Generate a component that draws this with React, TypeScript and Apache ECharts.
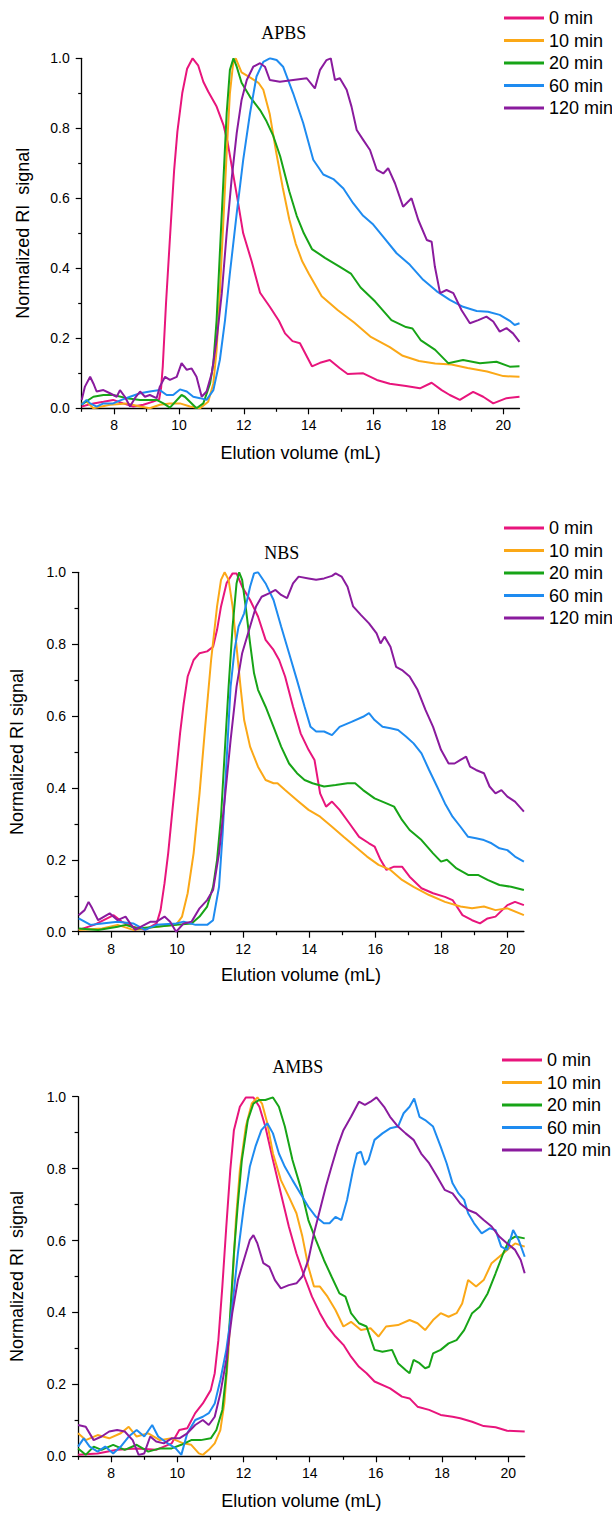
import React, { useEffect, useRef } from "react";
import * as echarts from "echarts";

// ---------- data ----------
const SERIES_NAMES = ["0 min", "10 min", "20 min", "60 min", "120 min"];
const PANEL_TITLES = ["APBS", "NBS", "AMBS"];
const Y_NAMES = ["Normalized RI  signal", "Normalized RI signal", "Normalized RI  signal"];
const X_NAME = "Elution volume (mL)";
const X_MAJOR_TICKS = [8, 10, 12, 14, 16, 18, 20];
const X_MINOR_TICKS = [7, 9, 11, 13, 15, 17, 19];
const X_MIN = 7;
const X_MAX = 20.5;

// APBS
const apbs0 = [[7.0,0.005],[7.36,0.014],[7.67,0.019],[7.97,0.024],[8.28,0.014],[8.59,0.005],[8.9,0.01],[9.2,0.019],[9.39,0.026],[9.45,0.06],[9.5,0.12],[9.6,0.3],[9.73,0.5],[9.85,0.68],[9.95,0.79],[10.1,0.9],[10.25,0.97],[10.42,1.0],[10.59,0.98],[10.75,0.933],[10.9,0.905],[11.16,0.862],[11.37,0.81],[11.5,0.76],[11.65,0.68],[11.8,0.6],[11.98,0.5],[12.24,0.42],[12.5,0.33],[12.8,0.29],[13.08,0.25],[13.27,0.214],[13.5,0.192],[13.73,0.186],[14.1,0.12],[14.35,0.13],[14.65,0.138],[14.95,0.115],[15.2,0.098],[15.68,0.1],[16.1,0.081],[16.5,0.07],[17.0,0.064],[17.43,0.057],[17.79,0.073],[18.1,0.052],[18.35,0.038],[18.66,0.024],[19.07,0.047],[19.38,0.033],[19.69,0.014],[20.1,0.029],[20.5,0.033]];
const apbs10 = [[7.0,0.014],[7.15,0.019],[7.36,0.0],[7.87,0.01],[8.39,0.014],[8.8,0.005],[9.1,0.0],[9.41,0.01],[9.72,0.014],[10.03,0.014],[10.34,0.005],[10.65,0.0],[10.9,0.019],[11.06,0.071],[11.16,0.167],[11.26,0.33],[11.37,0.538],[11.47,0.729],[11.57,0.9],[11.67,0.986],[11.75,1.0],[11.93,0.96],[12.2,0.945],[12.45,0.93],[12.6,0.91],[12.8,0.84],[13.0,0.73],[13.2,0.63],[13.4,0.54],[13.6,0.47],[13.8,0.42],[14.0,0.385],[14.4,0.32],[14.9,0.28],[15.4,0.245],[15.9,0.205],[16.5,0.175],[16.9,0.15],[17.4,0.135],[17.9,0.128],[18.4,0.125],[18.9,0.115],[19.5,0.105],[20.0,0.092],[20.5,0.09]];
const apbs20 = [[7.0,0.01],[7.05,0.014],[7.36,0.033],[7.67,0.038],[7.97,0.038],[8.39,0.029],[8.8,0.024],[9.31,0.024],[9.52,0.014],[9.72,0.002],[10.08,0.038],[10.18,0.033],[10.54,0.0],[10.75,0.014],[10.96,0.071],[11.06,0.129],[11.16,0.252],[11.26,0.443],[11.37,0.652],[11.47,0.843],[11.57,0.967],[11.68,1.0],[11.78,0.976],[11.93,0.93],[12.19,0.89],[12.5,0.852],[12.7,0.82],[12.9,0.78],[13.12,0.72],[13.4,0.62],[13.63,0.55],[13.85,0.5],[14.1,0.455],[14.5,0.43],[14.95,0.405],[15.3,0.385],[15.6,0.345],[16.05,0.305],[16.55,0.252],[17.0,0.232],[17.2,0.228],[17.45,0.195],[17.9,0.167],[18.3,0.129],[18.76,0.138],[19.28,0.129],[19.79,0.133],[20.2,0.119],[20.5,0.12]];
const apbs60 = [[7.0,0.01],[7.15,0.024],[7.26,0.014],[7.46,0.005],[7.67,0.014],[7.97,0.014],[8.23,0.024],[8.49,0.033],[8.8,0.043],[9.1,0.048],[9.41,0.052],[9.62,0.038],[9.82,0.038],[10.03,0.054],[10.24,0.048],[10.44,0.033],[10.65,0.029],[10.85,0.024],[11.06,0.052],[11.26,0.138],[11.42,0.252],[11.57,0.386],[11.78,0.557],[11.98,0.71],[12.19,0.843],[12.39,0.948],[12.6,0.99],[12.8,1.0],[13.01,0.995],[13.21,0.976],[13.52,0.9],[13.83,0.815],[14.14,0.71],[14.45,0.668],[14.76,0.655],[15.07,0.628],[15.37,0.586],[15.68,0.55],[15.99,0.525],[16.3,0.49],[16.71,0.443],[17.12,0.41],[17.53,0.367],[17.94,0.335],[18.35,0.31],[18.76,0.29],[19.18,0.278],[19.53,0.276],[19.89,0.267],[20.2,0.25],[20.35,0.238],[20.5,0.243]];
const apbs120 = [[7.0,0.024],[7.1,0.062],[7.26,0.09],[7.36,0.071],[7.46,0.048],[7.67,0.052],[7.87,0.043],[8.08,0.033],[8.18,0.052],[8.33,0.033],[8.49,0.005],[8.64,0.029],[8.8,0.048],[8.95,0.033],[9.1,0.038],[9.31,0.029],[9.41,0.062],[9.57,0.09],[9.72,0.081],[9.93,0.09],[10.08,0.129],[10.24,0.11],[10.39,0.114],[10.54,0.09],[10.7,0.033],[10.85,0.048],[11.01,0.1],[11.16,0.195],[11.32,0.329],[11.47,0.5],[11.62,0.652],[11.78,0.786],[11.93,0.881],[12.09,0.938],[12.29,0.976],[12.5,0.986],[12.65,0.976],[12.8,0.938],[13.11,0.933],[13.52,0.938],[13.94,0.943],[14.19,0.914],[14.35,0.967],[14.55,0.995],[14.68,1.0],[14.81,0.938],[14.96,0.943],[15.17,0.91],[15.32,0.862],[15.48,0.795],[15.68,0.767],[15.89,0.738],[16.1,0.681],[16.3,0.671],[16.45,0.686],[16.66,0.643],[16.91,0.576],[17.17,0.6],[17.38,0.538],[17.64,0.481],[17.79,0.476],[17.89,0.405],[18.05,0.329],[18.25,0.338],[18.46,0.329],[18.71,0.281],[18.97,0.243],[19.23,0.252],[19.48,0.262],[19.69,0.248],[19.89,0.219],[20.1,0.229],[20.3,0.214],[20.5,0.19]];

// NBS
const nbs0 = [[7.02,0.005],[7.49,0.019],[8.08,0.046],[8.32,0.028],[8.67,0.014],[9.03,0.005],[9.38,0.023],[9.5,0.06],[9.62,0.135],[9.73,0.218],[9.85,0.33],[9.97,0.44],[10.09,0.552],[10.2,0.635],[10.32,0.71],[10.5,0.756],[10.68,0.775],[10.91,0.78],[11.09,0.793],[11.21,0.84],[11.33,0.905],[11.5,0.97],[11.68,0.997],[11.8,0.997],[11.97,0.96],[12.21,0.923],[12.45,0.877],[12.68,0.812],[12.92,0.784],[13.09,0.756],[13.27,0.71],[13.51,0.626],[13.74,0.552],[13.98,0.506],[14.16,0.478],[14.33,0.385],[14.51,0.348],[14.69,0.362],[14.92,0.339],[15.22,0.301],[15.51,0.264],[15.81,0.246],[15.98,0.237],[16.16,0.2],[16.34,0.172],[16.57,0.181],[16.81,0.181],[17.04,0.153],[17.4,0.121],[17.75,0.107],[18.11,0.097],[18.34,0.088],[18.64,0.046],[18.93,0.032],[19.17,0.023],[19.4,0.037],[19.64,0.042],[20.0,0.074],[20.23,0.083],[20.5,0.074]];
const nbs10 = [[7.02,0.005],[7.73,0.009],[8.2,0.019],[8.67,0.005],[9.38,0.014],[9.97,0.019],[10.15,0.042],[10.32,0.107],[10.5,0.218],[10.68,0.385],[10.85,0.57],[11.03,0.756],[11.21,0.905],[11.33,0.979],[11.44,1.0],[11.56,0.979],[11.68,0.905],[11.8,0.793],[11.92,0.682],[12.03,0.589],[12.21,0.515],[12.45,0.459],[12.68,0.422],[12.92,0.413],[13.04,0.413],[13.27,0.394],[13.63,0.366],[13.98,0.339],[14.33,0.32],[14.69,0.292],[15.04,0.264],[15.39,0.237],[15.75,0.209],[16.1,0.186],[16.46,0.172],[16.81,0.144],[17.16,0.125],[17.63,0.102],[18.11,0.083],[18.58,0.07],[18.93,0.065],[19.29,0.07],[19.64,0.06],[20.0,0.065],[20.5,0.046]];
const nbs20 = [[7.02,0.009],[7.61,0.005],[8.2,0.014],[8.44,0.019],[8.79,0.009],[9.38,0.014],[9.97,0.019],[10.44,0.023],[10.68,0.042],[10.91,0.07],[11.09,0.125],[11.21,0.2],[11.33,0.32],[11.44,0.496],[11.56,0.682],[11.68,0.849],[11.8,0.969],[11.88,1.0],[11.97,0.979],[12.09,0.895],[12.21,0.802],[12.33,0.719],[12.45,0.673],[12.68,0.626],[12.92,0.57],[13.15,0.515],[13.39,0.468],[13.63,0.441],[13.86,0.422],[14.1,0.413],[14.45,0.404],[14.8,0.408],[15.16,0.413],[15.39,0.413],[15.63,0.394],[15.98,0.371],[16.34,0.357],[16.57,0.348],[16.81,0.311],[17.04,0.283],[17.4,0.255],[17.75,0.218],[17.99,0.195],[18.17,0.2],[18.46,0.176],[18.81,0.158],[19.11,0.158],[19.4,0.144],[19.76,0.13],[20.11,0.125],[20.5,0.116]];
const nbs60 = [[7.02,0.037],[7.38,0.019],[7.73,0.023],[8.2,0.028],[8.67,0.023],[9.03,0.005],[9.38,0.019],[9.97,0.023],[10.2,0.028],[10.56,0.019],[10.91,0.019],[11.09,0.032],[11.27,0.125],[11.38,0.274],[11.5,0.478],[11.62,0.682],[11.74,0.784],[11.86,0.849],[12.03,0.886],[12.21,0.96],[12.33,0.997],[12.45,1.0],[12.68,0.969],[12.92,0.923],[13.15,0.849],[13.39,0.775],[13.63,0.7],[13.86,0.626],[14.04,0.57],[14.21,0.557],[14.45,0.557],[14.69,0.547],[14.92,0.57],[15.28,0.584],[15.63,0.598],[15.81,0.608],[15.98,0.589],[16.22,0.57],[16.46,0.566],[16.69,0.561],[16.93,0.543],[17.16,0.524],[17.4,0.496],[17.63,0.45],[17.87,0.404],[18.11,0.357],[18.34,0.32],[18.58,0.292],[18.81,0.264],[19.05,0.26],[19.29,0.255],[19.52,0.246],[19.76,0.232],[20.0,0.227],[20.23,0.209],[20.5,0.195]];
const nbs120 = [[7.02,0.046],[7.2,0.06],[7.32,0.083],[7.43,0.065],[7.61,0.032],[7.79,0.042],[7.96,0.051],[8.2,0.032],[8.44,0.042],[8.61,0.019],[8.73,0.005],[8.91,0.014],[9.2,0.028],[9.38,0.028],[9.62,0.042],[9.79,0.028],[9.97,0.0],[10.2,0.023],[10.44,0.028],[10.68,0.065],[10.91,0.088],[11.09,0.116],[11.27,0.218],[11.44,0.366],[11.62,0.533],[11.8,0.682],[11.97,0.775],[12.21,0.849],[12.39,0.905],[12.56,0.932],[12.8,0.942],[12.98,0.951],[13.15,0.937],[13.33,0.928],[13.51,0.969],[13.68,0.988],[13.98,0.983],[14.21,0.979],[14.45,0.983],[14.69,0.99],[14.8,0.997],[14.98,0.988],[15.16,0.96],[15.33,0.905],[15.57,0.881],[15.81,0.858],[16.04,0.83],[16.16,0.802],[16.28,0.821],[16.46,0.793],[16.63,0.737],[16.81,0.728],[17.04,0.71],[17.28,0.673],[17.52,0.617],[17.75,0.57],[17.99,0.506],[18.22,0.468],[18.4,0.468],[18.58,0.478],[18.75,0.487],[18.87,0.459],[19.05,0.45],[19.29,0.441],[19.46,0.404],[19.64,0.385],[19.82,0.394],[20.0,0.376],[20.23,0.362],[20.5,0.334]];

// AMBS
const ambs0 = [[7.0,0.004],[7.59,0.008],[8.18,0.018],[8.77,0.022],[9.36,0.018],[9.83,0.036],[10.06,0.073],[10.3,0.078],[10.54,0.12],[10.77,0.147],[11.01,0.184],[11.13,0.231],[11.24,0.323],[11.36,0.472],[11.48,0.639],[11.6,0.796],[11.71,0.907],[11.89,0.972],[12.07,0.998],[12.3,0.998],[12.48,0.972],[12.66,0.917],[12.89,0.824],[13.13,0.731],[13.37,0.639],[13.6,0.564],[13.84,0.5],[14.07,0.444],[14.31,0.398],[14.54,0.361],[14.78,0.333],[15.02,0.31],[15.25,0.277],[15.49,0.249],[15.72,0.231],[15.96,0.208],[16.43,0.189],[16.79,0.166],[17.02,0.161],[17.26,0.138],[17.61,0.129],[17.96,0.115],[18.32,0.11],[18.55,0.106],[18.91,0.096],[19.26,0.084],[19.62,0.081],[19.97,0.071],[20.5,0.069]];
const ambs10 = [[7.0,0.064],[7.23,0.045],[7.59,0.059],[7.94,0.05],[8.29,0.064],[8.53,0.082],[8.77,0.055],[9.12,0.064],[9.47,0.045],[9.83,0.05],[10.18,0.036],[10.42,0.032],[10.65,0.008],[10.77,0.004],[10.95,0.018],[11.13,0.036],[11.3,0.073],[11.42,0.147],[11.54,0.286],[11.66,0.472],[11.77,0.657],[11.89,0.796],[12.07,0.917],[12.25,0.981],[12.42,0.998],[12.56,0.981],[12.72,0.926],[12.89,0.842],[13.13,0.768],[13.37,0.722],[13.6,0.676],[13.78,0.611],[13.96,0.527],[14.13,0.472],[14.31,0.472],[14.54,0.444],[14.78,0.407],[15.02,0.361],[15.25,0.374],[15.55,0.351],[15.84,0.356],[16.08,0.333],[16.31,0.361],[16.67,0.365],[17.02,0.379],[17.26,0.37],[17.49,0.351],[17.73,0.379],[17.96,0.398],[18.2,0.388],[18.44,0.398],[18.61,0.425],[18.79,0.49],[19.03,0.472],[19.26,0.49],[19.5,0.537],[19.73,0.555],[19.97,0.574],[20.21,0.592],[20.5,0.583]];
const ambs20 = [[7.0,0.022],[7.23,0.004],[7.47,0.027],[7.71,0.018],[8.06,0.032],[8.41,0.018],[8.77,0.032],[9.12,0.013],[9.47,0.022],[9.83,0.022],[10.12,0.032],[10.42,0.045],[10.71,0.045],[11.01,0.05],[11.18,0.073],[11.36,0.129],[11.48,0.231],[11.6,0.398],[11.71,0.564],[11.83,0.703],[11.95,0.824],[12.13,0.935],[12.3,0.981],[12.48,0.991],[12.66,0.991],[12.89,0.998],[13.07,0.972],[13.25,0.917],[13.48,0.824],[13.72,0.75],[13.96,0.657],[14.19,0.601],[14.43,0.546],[14.66,0.5],[14.9,0.453],[15.08,0.444],[15.25,0.398],[15.49,0.37],[15.72,0.361],[15.96,0.296],[16.2,0.291],[16.49,0.296],[16.67,0.259],[16.9,0.24],[17.02,0.231],[17.14,0.268],[17.32,0.259],[17.49,0.245],[17.61,0.249],[17.73,0.286],[17.96,0.296],[18.2,0.314],[18.44,0.323],[18.67,0.351],[18.91,0.398],[19.14,0.416],[19.38,0.453],[19.62,0.509],[19.85,0.564],[20.03,0.601],[20.21,0.611],[20.5,0.606]];
const ambs60 = [[7.0,0.027],[7.17,0.05],[7.35,0.027],[7.59,0.013],[7.82,0.027],[8.06,0.008],[8.29,0.027],[8.53,0.055],[8.77,0.073],[9.0,0.055],[9.24,0.087],[9.42,0.055],[9.71,0.036],[9.95,0.022],[10.12,0.004],[10.3,0.064],[10.54,0.101],[10.77,0.11],[10.95,0.12],[11.13,0.147],[11.3,0.212],[11.48,0.296],[11.66,0.416],[11.83,0.564],[12.01,0.694],[12.19,0.805],[12.36,0.861],[12.54,0.907],[12.72,0.926],[12.89,0.898],[13.07,0.842],[13.25,0.805],[13.48,0.768],[13.72,0.731],[13.96,0.694],[14.19,0.666],[14.43,0.648],[14.6,0.648],[14.78,0.666],[14.96,0.657],[15.13,0.713],[15.31,0.796],[15.43,0.842],[15.55,0.847],[15.67,0.81],[15.78,0.824],[15.96,0.88],[16.2,0.898],[16.43,0.912],[16.67,0.917],[16.84,0.954],[17.02,0.972],[17.16,0.995],[17.32,0.944],[17.49,0.935],[17.73,0.917],[17.96,0.861],[18.14,0.815],[18.32,0.759],[18.5,0.731],[18.67,0.713],[18.79,0.676],[18.97,0.648],[19.2,0.62],[19.44,0.634],[19.62,0.629],[19.79,0.583],[19.97,0.574],[20.15,0.629],[20.32,0.601],[20.5,0.555]];
const ambs120 = [[7.0,0.087],[7.23,0.082],[7.47,0.045],[7.71,0.055],[7.94,0.069],[8.18,0.073],[8.41,0.069],[8.65,0.045],[8.83,0.004],[9.0,0.008],[9.18,0.055],[9.36,0.041],[9.59,0.036],[9.83,0.05],[10.06,0.05],[10.3,0.064],[10.54,0.087],[10.77,0.101],[10.95,0.087],[11.13,0.11],[11.3,0.175],[11.48,0.268],[11.66,0.398],[11.83,0.49],[12.01,0.546],[12.19,0.601],[12.3,0.615],[12.42,0.592],[12.6,0.537],[12.78,0.527],[12.95,0.49],[13.13,0.467],[13.37,0.476],[13.6,0.481],[13.78,0.5],[13.96,0.546],[14.13,0.62],[14.31,0.685],[14.49,0.75],[14.66,0.805],[14.84,0.861],[15.02,0.907],[15.25,0.944],[15.49,0.986],[15.67,0.977],[15.84,0.986],[16.02,0.998],[16.25,0.972],[16.43,0.944],[16.67,0.917],[16.9,0.898],[17.14,0.88],[17.37,0.842],[17.61,0.815],[17.85,0.778],[18.08,0.741],[18.32,0.731],[18.55,0.703],[18.79,0.685],[19.03,0.676],[19.26,0.657],[19.5,0.639],[19.73,0.611],[19.97,0.592],[20.21,0.574],[20.38,0.546],[20.5,0.509]];

const PANEL_DATA = [
  [apbs0, apbs10, apbs20, apbs60, apbs120],
  [nbs0, nbs10, nbs20, nbs60, nbs120],
  [ambs0, ambs10, ambs20, ambs60, ambs120],
];

// ---------- styling / layout ----------
const COLORS = ["#E8157C", "#FBA817", "#17A417", "#1E8BF0", "#8A1B9E"];
const SANS = "'Liberation Sans', Arial, sans-serif";
const SERIF = "'Liberation Serif', 'Times New Roman', serif";

const LAYOUT = [
  { grid: { left: 81.7, top: 58.3, width: 437.8, height: 350 }, title: [283.8, 33.3], legend: { left: 499, top: 4 }, yGap: 50, xGap: 36 },
  { grid: { left: 77.4, top: 572.3, width: 446.5, height: 359.4 }, title: [281.8, 553.3], legend: { left: 499, top: 514 }, yGap: 52, xGap: 34 },
  { grid: { left: 78.1, top: 1096.7, width: 446.6, height: 359.6 }, title: [297.8, 1067.3], legend: { left: 497, top: 1046 }, yGap: 52, xGap: 36 },
];

function buildOption() {
  const grid: any[] = [];
  const xAxis: any[] = [];
  const yAxis: any[] = [];
  const series: any[] = [];
  const legend: any[] = [];
  const graphic: any[] = [];

  LAYOUT.forEach((L, p) => {
    grid.push({ ...L.grid, containLabel: false });
    const axisLine = { show: true, onZero: false, lineStyle: { color: "#000", width: 1.3 } };
    xAxis.push({
      type: "value",
      gridIndex: p,
      min: X_MIN,
      max: X_MAX,
      position: "bottom",
      axisLine,
      axisTick: { show: true, inside: false, length: 6, customValues: X_MAJOR_TICKS, lineStyle: { color: "#000", width: 1.2 } },
      axisLabel: { show: true, customValues: X_MAJOR_TICKS, margin: 10, fontSize: 14, color: "#000", fontFamily: SANS },
      splitLine: { show: false },
      name: X_NAME,
      nameLocation: "middle",
      nameGap: L.xGap,
      nameTextStyle: { fontSize: 18, color: "#000", fontFamily: SANS },
    });
    xAxis.push({
      type: "value",
      gridIndex: p,
      min: X_MIN,
      max: X_MAX,
      position: "bottom",
      axisLine: { show: false, onZero: false },
      axisTick: { show: true, inside: false, length: 3.5, customValues: X_MINOR_TICKS, lineStyle: { color: "#000", width: 1.2 } },
      axisLabel: { show: false },
      splitLine: { show: false },
    });
    yAxis.push({
      type: "value",
      gridIndex: p,
      min: 0,
      max: 1,
      interval: 0.2,
      axisLine,
      axisTick: { show: true, inside: false, length: 6, lineStyle: { color: "#000", width: 1.2 } },
      minorTick: { show: true, splitNumber: 2, length: 3.5, lineStyle: { color: "#000", width: 1.2 } },
      axisLabel: { margin: 12, fontSize: 14, color: "#000", fontFamily: SANS, formatter: (v: number) => v.toFixed(1) },
      splitLine: { show: false },
      minorSplitLine: { show: false },
      name: Y_NAMES[p],
      nameLocation: "middle",
      nameGap: L.yGap,
      nameTextStyle: { fontSize: 18, color: "#000", fontFamily: SANS },
    });
    PANEL_DATA[p].forEach((d, i) => {
      series.push({
        type: "line",
        name: SERIES_NAMES[i],
        xAxisIndex: p * 2,
        yAxisIndex: p,
        data: d,
        showSymbol: false,
        symbol: "none",
        clip: true,
        lineStyle: { width: 2, color: COLORS[i] },
        itemStyle: { color: COLORS[i] },
      });
    });
    legend.push({
      orient: "vertical",
      left: L.legend.left,
      top: L.legend.top,
      itemWidth: 40,
      itemHeight: 3,
      itemGap: 4.5,
      icon: "rect",
      data: SERIES_NAMES,
      textStyle: { fontSize: 18, color: "#000", fontFamily: SANS },
      selectedMode: false,
    });
    graphic.push({
      type: "text",
      x: L.title[0],
      y: L.title[1],
      style: { text: PANEL_TITLES[p], align: "center", verticalAlign: "middle", fontSize: 18, fontFamily: SERIF, fill: "#000" },
    });
  });

  return {
    animation: false,
    backgroundColor: "#fff",
    grid,
    xAxis,
    yAxis,
    series,
    legend,
    graphic,
  };
}

export default function App() {
  const ref = useRef<HTMLDivElement>(null);
  useEffect(() => {
    if (!ref.current) return;
    const chart = echarts.init(ref.current, undefined, { renderer: "svg" });
    chart.setOption(buildOption());
    return () => chart.dispose();
  }, []);
  return <div ref={ref} style={{ position: "absolute", left: 0, top: 0, width: 612, height: 1514, background: "#fff" }} />;
}
